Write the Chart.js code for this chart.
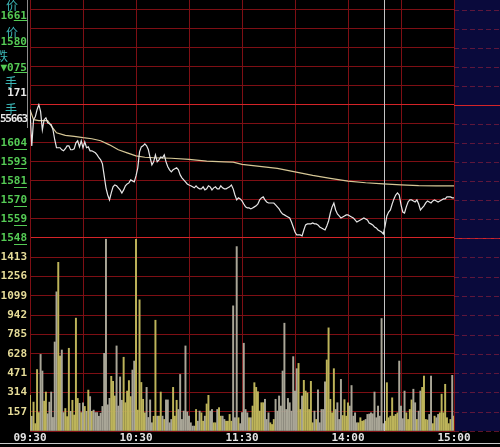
<!DOCTYPE html>
<html>
<head>
<meta charset="utf-8">
<script src="https://cdn.jsdelivr.net/npm/chart.js@4.4.1/dist/chart.umd.min.js"></script>
<style>
  html, body { margin: 0; padding: 0; background: #000; overflow: hidden; }
  #wrap { position: relative; width: 500px; height: 447px; overflow: hidden; }
  #chart { position: absolute; left: 0; top: 0; }
  .row { position: absolute; white-space: nowrap; line-height: 12px; }
  .num { font: bold 11px 'DejaVu Sans Mono', monospace; right: 473px; }
  .cn { font: 12px 'Noto Sans CJK SC', sans-serif; color: #3cb8b8; }
  .g { color: #55cc55; }
  .w { color: #e8e8e8; }
  #sep { position: absolute; left: 27px; top: 0; width: 1px; height: 128px; background: #8c8c8c; }
  #status { position: absolute; left: 0; top: 443px; width: 500px; height: 1px; background: #c8c8c8; }
</style>
</head>
<body>
<div id="wrap">
  <canvas id="chart" width="500" height="447"></canvas>
  <div id="sep"></div>
  <div class="row cn" style="right:482px; top:-4px">价</div>
  <div class="row num g" style="top:9px">16<u>61</u></div>
  <div class="row cn" style="right:482px; top:23px">价</div>
  <div class="row num g" style="top:35px">15<u>80</u></div>
  <div class="row cn" style="right:492px; top:47px">跌</div>
  <div class="row num g" style="top:61px">▼0<u>75</u></div>
  <div class="row cn" style="right:483px; top:73px">手</div>
  <div class="row num w" style="top:86px">171</div>
  <div class="row cn" style="right:483px; top:100px">手</div>
  <div class="row num w" style="top:112px; letter-spacing:-1.2px">55663</div>
  <div id="status"></div>
</div>
<script>
// time axis (minutes from the open)
const timeTickMinutes = [0, 60, 120, 180, 240]
const timeTickLabels = ['09:30', '10:30', '11:30', '14:00', '15:00']

// price axis
const priceTicks = [1548, 1559.2, 1570.4, 1581.6, 1592.8, 1604, 1615.2, 1626.4, 1637.6, 1648.8, 1660, 1671.2, 1682.4]
const priceTickLabels = ['1548', '1559', '1570', '1581', '1593', '1604']

// volume axis
const volTicks = [0, 157, 314, 471, 628, 785, 942, 1099, 1256, 1413, 1570]
const volTickLabels = ['', '157', '314', '471', '628', '785', '942', '1099', '1256', '1413', '']

// last price, one per minute
const price = [
  1623.5, 1602.2, 1617.6, 1619.3, 1623.5, 1626.4, 1622.3, 1611.7, 1617.6, 1618.7,
  1615.8, 1615.2, 1614.6, 1611.7, 1605.8, 1601.1, 1601.1, 1601.1, 1599.9, 1599.3,
  1600.5, 1602.2, 1602.2, 1599.9, 1599.9, 1600.5, 1604.0, 1605.2, 1601.6, 1605.2,
  1601.1, 1604.6, 1601.1, 1601.6, 1599.3, 1599.3, 1598.7, 1598.1, 1596.9, 1595.2,
  1594.0, 1591.6, 1584.5, 1577.5, 1573.3, 1570.4, 1574.5, 1578.1, 1579.2, 1578.7,
  1577.5, 1576.3, 1574.5, 1576.3, 1578.7, 1579.8, 1580.4, 1582.2, 1581.6, 1581.0,
  1584.5, 1589.3, 1598.7, 1601.6, 1602.2, 1603.4, 1602.2, 1599.9, 1595.2, 1591.0,
  1592.8, 1596.9, 1592.8, 1594.0, 1595.7, 1595.2, 1596.9, 1592.8, 1589.9, 1588.1,
  1586.9, 1588.1, 1588.7, 1589.3, 1588.1, 1585.1, 1583.4, 1582.2, 1581.0, 1579.8,
  1579.2, 1578.7, 1578.1, 1577.5, 1578.7, 1577.5, 1576.9, 1576.9, 1578.1, 1576.3,
  1576.9, 1578.7, 1578.1, 1576.3, 1577.5, 1578.1, 1576.9, 1576.9, 1578.7, 1577.5,
  1576.9, 1576.9, 1577.5, 1578.1, 1579.2, 1576.9, 1573.3, 1570.4, 1571.6, 1571.0,
  1569.8, 1568.0, 1566.3, 1565.7, 1565.7, 1565.1, 1565.7, 1566.3, 1566.9, 1568.0,
  1570.4, 1571.6, 1572.2, 1570.4, 1569.2, 1568.6, 1568.6, 1568.6, 1568.6, 1567.5,
  1566.3, 1565.1, 1563.3, 1562.1, 1561.6, 1561.0, 1560.4, 1559.8, 1557.4, 1554.5,
  1551.5, 1549.8, 1549.8, 1549.8, 1549.2, 1552.7, 1555.7, 1556.3, 1556.3, 1556.3,
  1556.8, 1556.3, 1556.3, 1555.7, 1554.5, 1553.9, 1553.3, 1552.7, 1555.1, 1558.0,
  1562.7, 1566.3, 1568.6, 1564.5, 1562.1, 1561.0, 1559.8, 1560.4, 1561.0, 1561.6,
  1561.6, 1561.0, 1560.4, 1559.8, 1558.6, 1557.4, 1558.0, 1558.6, 1559.2, 1559.8,
  1559.2, 1558.6, 1556.8, 1556.3, 1555.7, 1554.5, 1553.9, 1552.7, 1552.1, 1551.5,
  1550.4, 1555.1, 1561.0, 1563.3, 1564.5, 1568.0, 1571.0, 1573.3, 1574.5, 1573.3,
  1567.5, 1563.3, 1562.7, 1566.3, 1569.2, 1570.4, 1570.4, 1569.8, 1569.2, 1570.4,
  1568.0, 1564.5, 1565.7, 1566.9, 1568.6, 1569.8, 1569.2, 1568.6, 1569.8, 1570.4,
  1569.8, 1569.2, 1569.8, 1570.4, 1571.0, 1571.0, 1572.2, 1572.2, 1572.2, 1571.6, 1571.6
]

// average price line
const avgMinutes = [0, 2, 5, 10, 12, 15, 20, 25, 30, 35, 40, 45, 50, 55, 60, 65, 70, 80, 90, 100,
  110, 115, 120, 130, 140, 150, 160, 170, 180, 190, 200, 210, 220, 230, 240]
const avgPrice = [1623.5, 1617.6, 1617.0, 1617.0, 1614.0, 1609.9, 1608.4, 1607.8, 1607.0, 1606.4,
  1605.2, 1602.8, 1599.9, 1598.1, 1596.3, 1595.5, 1595.2, 1594.9, 1594.3, 1593.2,
  1592.8, 1592.6, 1591.3, 1590.1, 1589.0, 1586.9, 1584.8, 1583.1, 1581.5, 1580.5,
  1579.8, 1579.2, 1578.8, 1578.7, 1578.7]

// volume per minute
const volume = [
  290, 120, 235, 60, 500, 150, 623, 488, 243, 317,
  140, 235, 317, 110, 724, 1132, 1372, 610, 659, 150,
  183, 117, 673, 160, 250, 130, 918, 265, 225, 150,
  230, 200, 160, 333, 280, 160, 170, 150, 150, 120,
  145, 200, 632, 1560, 213, 266, 445, 404, 285, 692,
  203, 440, 250, 600, 230, 325, 410, 280, 496, 569,
  1560, 170, 1067, 395, 258, 148, 355, 110, 253, 67,
  120, 901, 121, 121, 317, 121, 94, 253, 253, 67,
  94, 355, 121, 250, 175, 460, 94, 162, 692, 155,
  121, 67, 40, 40, 175, 80, 162, 148, 80, 121,
  220, 290, 162, 175, 67, 67, 175, 190, 121, 121,
  94, 80, 80, 135, 80, 1018, 108, 1500, 108, 60,
  150, 714, 175, 148, 108, 108, 203, 393, 355, 320,
  162, 230, 230, 258, 94, 148, 67, 53, 94, 258,
  162, 285, 203, 488, 877, 175, 265, 230, 162, 605,
  325, 507, 550, 175, 285, 412, 325, 310, 175, 404,
  67, 162, 94, 335, 67, 175, 175, 400, 578, 839,
  258, 148, 507, 175, 230, 94, 420, 126, 255, 121,
  230, 203, 370, 121, 148, 67, 67, 108, 80, 85,
  94, 135, 138, 148, 140, 317, 108, 203, 121, 915,
  60, 80, 393, 108, 121, 270, 121, 135, 148, 569,
  203, 100, 325, 148, 94, 175, 253, 340, 230, 94,
  162, 325, 355, 447, 94, 90, 135, 447, 60, 121,
  108, 135, 148, 300, 148, 380, 108, 60, 94, 453, 121
]

const cursorMinute = 200.3

const gridDark = '#7e0f14'
const gridBright = '#d42428'
const volYellow = '#bdb45a'
const volGray = '#a9a697'
const priceGreen = '#55cc55'
const tickFont = { family: 'DejaVu Sans Mono', size: 11, weight: 'bold' }

const fixY = (s) => { s.width = 30; s.paddingTop = 0; s.paddingBottom = 0 }

const stripPlugin = {
	id: 'strip',
	beforeDraw(chart) {
		const { ctx, chartArea: a } = chart
		ctx.save()
		ctx.fillStyle = '#000'
		ctx.fillRect(0, 0, chart.width, chart.height)
		ctx.fillStyle = '#0a0a3c'
		ctx.fillRect(a.right, 0, chart.width - a.right, a.bottom)
		ctx.restore()
	},
	afterDraw(chart) {
		const { ctx, chartArea: a, scales } = chart
		ctx.save()
		ctx.lineWidth = 1
		const rows = []
		priceTicks.forEach((v, i) => rows.push([scales.price.getPixelForValue(v), i === 0 || i === 7]))
		volTicks.forEach((v) => rows.push([scales.vol.getPixelForValue(v), false]))
		rows.forEach(([y, bright]) => {
			ctx.strokeStyle = bright ? gridBright : 'rgba(140,30,60,0.65)'
			ctx.setLineDash(bright ? [] : [5, 3])
			ctx.beginPath()
			ctx.moveTo(a.right, Math.round(y) + 0.5)
			ctx.lineTo(chart.width, Math.round(y) + 0.5)
			ctx.stroke()
		})
		// underline the last two digits of the price labels
		ctx.fillStyle = priceGreen
		priceTickLabels.forEach((t, i) => {
			const y = Math.round(scales.price.getPixelForValue(priceTicks[i])) + 6
			ctx.fillRect(a.left - 16, y, 13, 1)
		})
		// crosshair
		const cx = Math.round(scales.x.getPixelForValue(cursorMinute)) + 0.5
		ctx.setLineDash([])
		ctx.strokeStyle = '#c4c4c4'
		ctx.beginPath()
		ctx.moveTo(cx, 0)
		ctx.lineTo(cx, a.bottom)
		ctx.stroke()
		ctx.restore()
	}
}

const ctx = document.getElementById('chart').getContext('2d')

new Chart(ctx, {
	type: 'line',
	data: {
		datasets: [
			{
				label: '价格',
				data: price.map((p, i) => ({ x: i, y: p })),
				yAxisID: 'price',
				borderColor: '#e6e6e6',
				borderWidth: 1.2,
				pointRadius: 0,
				tension: 0
			},
			{
				label: '均价',
				data: avgMinutes.map((m, i) => ({ x: m, y: avgPrice[i] })),
				yAxisID: 'price',
				borderColor: '#d6c796',
				borderWidth: 1.2,
				pointRadius: 0,
				tension: 0
			},
			{
				type: 'bar',
				label: '成交量',
				data: volume.map((v, i) => ({ x: i, y: v })),
				yAxisID: 'vol',
				barThickness: 1.3,
				borderWidth: 0,
				backgroundColor: (c) => {
					const i = c.dataIndex
					return i > 0 && price[i] < price[i - 1] ? volGray : volYellow
				}
			}
		]
	},
	options: {
		responsive: false,
		animation: false,
		layout: { padding: { left: 0, top: 0, right: 46, bottom: 0 } },
		plugins: { legend: { display: false }, tooltip: { enabled: false } },
		scales: {
			x: {
				type: 'linear',
				min: 0,
				max: 240,
				offset: false,
				afterFit: (s) => { s.height = 16; s.paddingLeft = 0; s.paddingRight = 0 },
				ticks: {
					stepSize: 30,
					autoSkip: false,
					maxRotation: 0,
					padding: 1,
					color: '#e4e4e4',
					font: tickFont,
					callback: (v) => {
						const k = timeTickMinutes.indexOf(v)
						return k < 0 ? '' : timeTickLabels[k]
					}
				},
				grid: { color: gridDark, offset: false, drawTicks: false, tickLength: 0 },
				border: { color: gridDark }
			},
			price: {
				type: 'linear',
				position: 'left',
				stack: 'main',
				stackWeight: 238,
				weight: 2,
				min: 1548,
				max: 1688,
				afterBuildTicks: (s) => { s.ticks = priceTicks.map((v) => ({ value: v })) },
				afterFit: fixY,
				ticks: {
					autoSkip: false,
					padding: 3,
					color: priceGreen,
					font: tickFont,
					callback: (v, i) => priceTickLabels[i] || ''
				},
				grid: {
					color: (c) => (c.index === 0 || c.index === 7 ? gridBright : gridDark),
					drawTicks: false,
					tickLength: 0
				},
				border: { color: gridDark }
			},
			vol: {
				type: 'linear',
				position: 'left',
				stack: 'main',
				stackWeight: 193,
				weight: 1,
				min: 0,
				max: 1570,
				afterBuildTicks: (s) => { s.ticks = volTicks.map((v) => ({ value: v })) },
				afterFit: fixY,
				ticks: {
					autoSkip: false,
					padding: 3,
					color: '#e6dc98',
					font: tickFont,
					callback: (v, i) => volTickLabels[i]
				},
				grid: {
					color: (c) => (c.index === 10 ? gridBright : gridDark),
					drawTicks: false,
					tickLength: 0
				},
				border: { color: gridDark }
			}
		}
	},
	plugins: [stripPlugin]
})
</script>
</body>
</html>
